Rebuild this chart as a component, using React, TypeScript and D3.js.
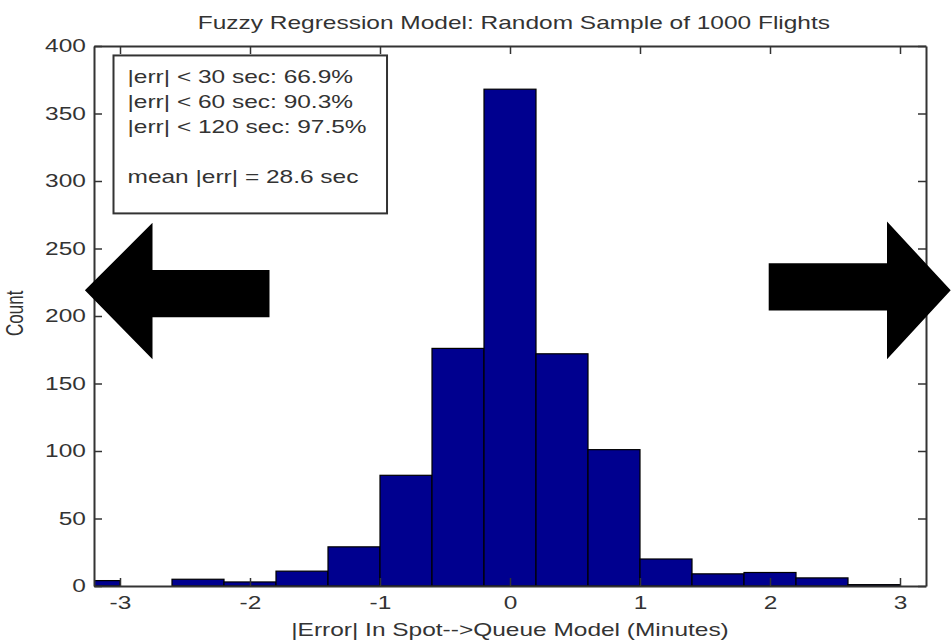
import React, { useEffect, useRef } from "react";
import * as d3 from "d3";

// histogram bins (minutes) and counts
const binStarts = [-3.4, -3.0, -2.6, -2.2, -1.8, -1.4, -1.0, -0.6, -0.2, 0.2, 0.6, 1.0, 1.4, 1.8, 2.2, 2.6];
const counts = [4, 0, 5, 3, 11, 29, 82, 176, 368, 172, 101, 20, 9, 10, 6, 1];
const binWidth = 0.4;
const xTicks = [-3, -2, -1, 0, 1, 2, 3];
const yTicks = [0, 50, 100, 150, 200, 250, 300, 350, 400];
const statLines = [
  "|err| < 30 sec: 66.9%",
  "|err| < 60 sec: 90.3%",
  "|err| < 120 sec: 97.5%",
  "",
  "mean |err| = 28.6 sec",
];
const title = "Fuzzy Regression Model: Random Sample of 1000 Flights";
const xLabel = "|Error| In Spot-->Queue Model (Minutes)";
const yLabel = "Count";

// arrows, in data units
const leftArrow: [number, number][] = [
  [-3.27, 219], [-2.75, 269], [-2.75, 234], [-1.85, 234],
  [-1.85, 199], [-2.75, 199], [-2.75, 168],
];
const rightArrow: [number, number][] = [
  [1.99, 239], [2.9, 239], [2.9, 270], [3.39, 219],
  [2.9, 168], [2.9, 204], [1.99, 204],
];

const W = 951;
const H = 643;
const margin = { top: 46, right: 25, bottom: 57, left: 94 };
// the original picture is stretched sideways, so is all its text
const SX = 1.36;

const App = () => {
  const ref = useRef<SVGSVGElement>(null);

  useEffect(() => {
    const svg = d3.select(ref.current);
    svg.selectAll("*").remove();
    const x = d3.scaleLinear().domain([-3.2, 3.2]).range([margin.left, W - margin.right]);
    const y = d3.scaleLinear().domain([0, 400]).range([H - margin.bottom, margin.top]);
    const font = "Liberation Sans, Arial, sans-serif";
    const ink = "#333";

    svg.append("rect").attr("width", W).attr("height", H).attr("fill", "#fff");

    const clip = svg.append("clipPath").attr("id", "plotclip");
    clip.append("rect")
      .attr("x", x(-3.2)).attr("y", y(400))
      .attr("width", x(3.2) - x(-3.2)).attr("height", y(0) - y(400));

    // bars
    svg.append("g").attr("clip-path", "url(#plotclip)")
      .selectAll("rect")
      .data(counts)
      .enter()
      .append("rect")
      .attr("x", (d, i) => x(binStarts[i]))
      .attr("width", (d, i) => x(binStarts[i] + binWidth) - x(binStarts[i]))
      .attr("y", (d) => y(d))
      .attr("height", (d) => y(0) - y(d))
      .attr("fill", "#00008f")
      .attr("stroke", "#000")
      .attr("stroke-width", 1.2);

    // axes, MATLAB style: inward ticks on all four sides
    const tl = 8;
    svg.append("g").attr("transform", `translate(0,${y(0)})`)
      .call(d3.axisBottom(x).tickValues(xTicks).tickSizeInner(-tl).tickSizeOuter(0).tickPadding(10).tickFormat((d) => String(d)));
    svg.append("g").attr("transform", `translate(0,${y(400)})`)
      .call(d3.axisTop(x).tickValues(xTicks).tickSizeInner(-tl).tickSizeOuter(0).tickFormat(() => ""));
    svg.append("g").attr("transform", `translate(${x(-3.2)},0)`)
      .call(d3.axisLeft(y).tickValues(yTicks).tickSizeInner(-tl).tickSizeOuter(0).tickPadding(6));
    svg.append("g").attr("transform", `translate(${x(3.2)},0)`)
      .call(d3.axisRight(y).tickValues(yTicks).tickSizeInner(-tl).tickSizeOuter(0).tickFormat(() => ""));
    svg.selectAll(".domain").attr("stroke", ink).attr("stroke-width", 2);
    svg.selectAll(".tick line").attr("stroke", ink).attr("stroke-width", 1.5);
    svg.selectAll(".tick text")
      .attr("font-family", font).attr("font-size", 18).attr("fill", ink)
      .attr("transform", `scale(${SX},1)`);

    // stats box
    const bx0 = x(-3.05), bx1 = x(-0.946), by0 = y(393), by1 = y(276);
    svg.append("rect")
      .attr("x", bx0).attr("y", by0).attr("width", bx1 - bx0).attr("height", by1 - by0)
      .attr("fill", "#fff").attr("stroke", ink).attr("stroke-width", 2);
    svg.append("g").selectAll("text")
      .data(statLines)
      .enter()
      .append("text")
      .attr("transform", (d, i) => `translate(${bx0 + 14},${by0 + 28 + i * 25}) scale(${SX},1)`)
      .attr("font-family", font).attr("font-size", 18).attr("fill", ink)
      .text((d) => d);

    // arrows
    const line = d3.line<[number, number]>().x((d) => x(d[0])).y((d) => y(d[1]));
    [leftArrow, rightArrow].forEach((pts) => {
      svg.append("path").attr("d", line(pts) + "Z").attr("fill", "#000");
    });

    // labels
    svg.append("text")
      .attr("transform", `translate(${x(0.03)},28.5) scale(${SX},1)`)
      .attr("text-anchor", "middle")
      .attr("font-family", font).attr("font-size", 18).attr("fill", ink)
      .text(title);
    svg.append("text")
      .attr("transform", `translate(${x(0)},636) scale(${SX},1)`)
      .attr("text-anchor", "middle")
      .attr("font-family", font).attr("font-size", 18).attr("fill", ink)
      .text(xLabel);
    svg.append("text")
      .attr("transform", `translate(23,${y(202)}) scale(${SX},1) rotate(-90)`)
      .attr("text-anchor", "middle")
      .attr("font-family", font).attr("font-size", 17).attr("fill", ink)
      .text(yLabel);
  }, []);

  return (
    <svg
      ref={ref}
      width={W}
      height={H}
      style={{ position: "absolute", left: 0, top: 0, display: "block" }}
    />
  );
};

export default App;
